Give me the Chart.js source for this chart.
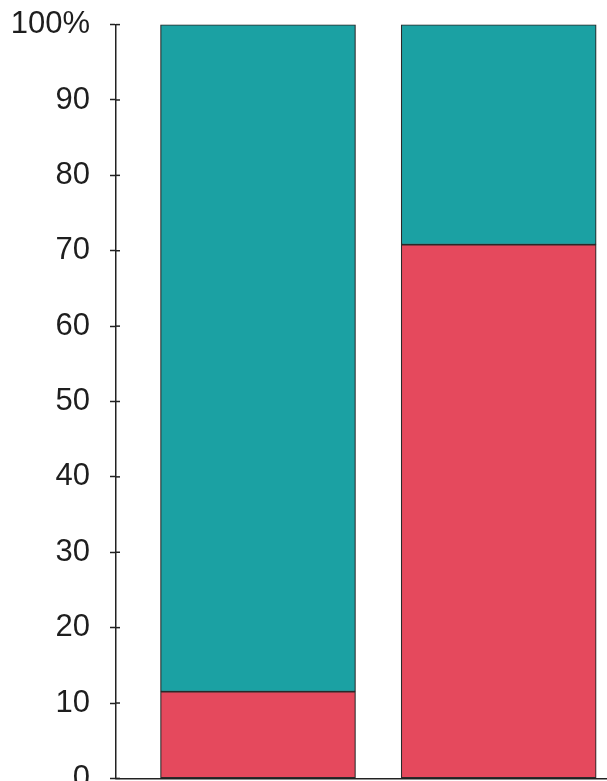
<!DOCTYPE html>
<html>
<head>
<meta charset="utf-8">
<script src="https://cdn.jsdelivr.net/npm/chart.js@4"></script>
<style>
  html, body { margin: 0; padding: 0; background: #fff; overflow: hidden; }
  #wrap { position: relative; width: 607px; height: 831px; margin-top: -14px; }
</style>
</head>
<body>
<div id="wrap"><canvas id="barChartCanvas"></canvas></div>
<script>
// two groups, shares in percent (bottom = red, top = teal)
var categories = ['Group A', 'Group B'];
var redValues = [11.5, 70.8];
var tealValues = [88.5, 29.2];
var yTicks = [0, 10, 20, 30, 40, 50, 60, 70, 80, 90, 100];

var red = '#e5495d';
var teal = '#1ba1a3';

function toPoints(values) {
    return values.map(function(v, i) {
        return { x: i + 1, y: v };
    });
}

// small tick marks poking into the plot, like hand drawn crosses on the axis
var innerTicks = {
    id: 'innerTicks',
    afterDraw: function(chart) {
        var y = chart.scales.y;
        var c = chart.ctx;
        c.save();
        c.strokeStyle = '#222';
        c.lineWidth = 1.5;
        y.ticks.forEach(function(t) {
            var py = y.getPixelForValue(t.value);
            c.beginPath();
            c.moveTo(y.right, py);
            c.lineTo(y.right + 4, py);
            c.stroke();
        });
        c.restore();
    }
};

var ctx = document.getElementById('barChartCanvas').getContext('2d');
var myChart = new Chart(ctx, {
    type: 'bar',
    data: {
        datasets: [{
            label: 'Red',
            data: toPoints(redValues),
            backgroundColor: red,
            borderColor: '#2a2a2a',
            borderWidth: 1.2,
            borderSkipped: false,
            barThickness: 195
        },
        {
            label: 'Teal',
            data: toPoints(tealValues),
            backgroundColor: teal,
            borderColor: '#2a2a2a',
            borderWidth: 1.2,
            borderSkipped: false,
            barThickness: 195
        }]
    },
    plugins: [innerTicks],
    options: {
        responsive: true,
        maintainAspectRatio: false,
        animation: false,
        layout: { padding: { left: 13, top: 0, right: 0, bottom: 0 } },
        plugins: {
            legend: { display: false },
            tooltip: { enabled: false }
        },
        scales: {
            x: {
                type: 'linear',
                stacked: true,
                offset: false,
                min: 0.41,
                max: 2.45,
                ticks: { display: false },
                grid: { display: false },
                border: { display: true, color: '#222', width: 1.5 }
            },
            y: {
                stacked: true,
                min: 0,
                max: 100,
                afterBuildTicks: function(scale) {
                    scale.ticks = yTicks.map(function(v) { return { value: v }; });
                },
                afterFit: function(scale) {
                    scale.width = 103;
                },
                ticks: {
                    color: '#1e1e1e',
                    padding: 20,
                    font: { family: 'Liberation Sans, Arial, sans-serif', size: 31 },
                    callback: function(v) { return v === 100 ? '100%' : v; }
                },
                grid: {
                    drawOnChartArea: false,
                    tickLength: 6,
                    color: '#222',
                    tickWidth: 1.5
                },
                border: { display: true, color: '#222', width: 1.5 }
            }
        }
    }
});
</script>
</body>
</html>
